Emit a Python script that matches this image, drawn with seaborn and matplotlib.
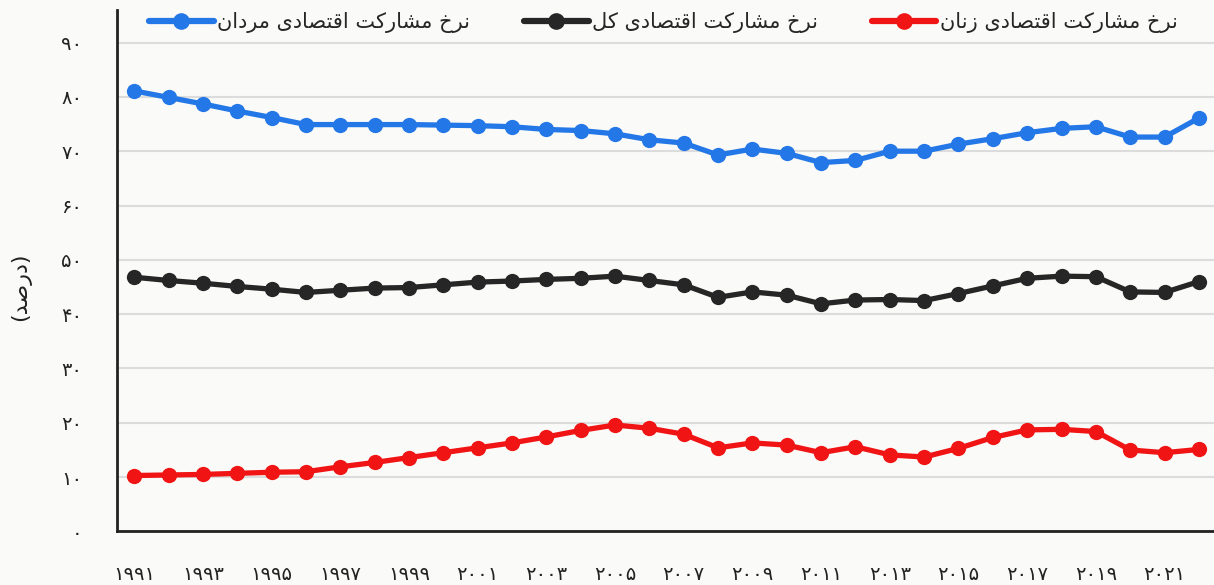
import numpy as np
import pandas as pd
import matplotlib
matplotlib.use("Agg")
import matplotlib.pyplot as plt
import seaborn as sns

# data (percent)
years = list(range(1991, 2023))
men = [81.1, 79.9, 78.7, 77.4, 76.2, 74.9, 74.9, 74.9, 74.9, 74.8, 74.7, 74.5,
       74.0, 73.8, 73.2, 72.1, 71.5, 69.3, 70.4, 69.6, 67.9, 68.3, 70.0, 70.0,
       71.3, 72.3, 73.4, 74.2, 74.5, 72.6, 72.6, 76.1]
total = [46.8, 46.2, 45.7, 45.1, 44.6, 44.0, 44.4, 44.8, 44.9, 45.4, 45.9, 46.1,
         46.4, 46.6, 47.0, 46.2, 45.4, 43.1, 44.1, 43.5, 41.9, 42.6, 42.7, 42.5,
         43.8, 45.2, 46.6, 47.0, 46.9, 44.1, 44.0, 46.0]
women = [10.3, 10.4, 10.5, 10.7, 10.9, 11.0, 11.9, 12.7, 13.6, 14.5, 15.4, 16.3,
         17.4, 18.6, 19.6, 19.0, 17.9, 15.4, 16.3, 15.9, 14.5, 15.6, 14.1, 13.7,
         15.3, 17.3, 18.7, 18.8, 18.4, 15.0, 14.5, 15.1]
series_names = ["نرخ مشارکت اقتصادی مردان",
                "نرخ مشارکت اقتصادی کل",
                "نرخ مشارکت اقتصادی زنان"]
y_label = "(درصد)"
y_ticks = list(range(0, 100, 10))
x_ticks = list(range(1991, 2022, 2))

# matplotlib has no arabic shaping, so pick presentation forms by hand
FORMS = {
    "ا": ("\uFE8D", "\uFE8E", None, None),
    "ت": ("\uFE95", "\uFE96", "\uFE97", "\uFE98"),
    "خ": ("\uFEA5", "\uFEA6", "\uFEA7", "\uFEA8"),
    "د": ("\uFEA9", "\uFEAA", None, None),
    "ر": ("\uFEAD", "\uFEAE", None, None),
    "ز": ("\uFEAF", "\uFEB0", None, None),
    "ش": ("\uFEB5", "\uFEB6", "\uFEB7", "\uFEB8"),
    "ص": ("\uFEB9", "\uFEBA", "\uFEBB", "\uFEBC"),
    "ق": ("\uFED5", "\uFED6", "\uFED7", "\uFED8"),
    "ل": ("\uFEDD", "\uFEDE", "\uFEDF", "\uFEE0"),
    "م": ("\uFEE1", "\uFEE2", "\uFEE3", "\uFEE4"),
    "ن": ("\uFEE5", "\uFEE6", "\uFEE7", "\uFEE8"),
    "ک": ("\uFB8E", "\uFB8F", "\uFB90", "\uFB91"),
    "ی": ("\uFBFC", "\uFBFD", "\uFBFE", "\uFBFF"),
}
MIRROR = {"(": ")", ")": "("}


def fa(text):
    out = []
    for i, c in enumerate(text):
        if c not in FORMS:
            out.append(MIRROR.get(c, c))
            continue
        prev = text[i - 1] if i > 0 else None
        nxt = text[i + 1] if i + 1 < len(text) else None
        join_prev = prev in FORMS and FORMS[prev][2] is not None
        join_next = nxt in FORMS and FORMS[c][2] is not None
        iso, fin, ini, med = FORMS[c]
        if join_prev and join_next:
            out.append(med)
        elif join_prev:
            out.append(fin)
        elif join_next:
            out.append(ini)
        else:
            out.append(iso)
    return "".join(out)[::-1]


def fa_digits(n):
    return str(n).translate(str.maketrans("0123456789", "۰۱۲۳۴۵۶۷۸۹"))


sns.set_style("white")
plt.rcParams["font.family"] = ["DejaVu Sans"]

bg = "#fafaf8"
fig = plt.figure(figsize=(12.14, 5.85), dpi=100, facecolor=bg)
ax = fig.add_axes([0.0964, 0.0915, 0.9036, 0.8915], facecolor=bg)

colors = ["#2477e6", "#262626", "#f01414"]
for vals, name, col in zip([men, total, women], series_names, colors):
    sns.lineplot(x=years, y=vals, ax=ax, color=col, marker="o", markersize=11,
                 markeredgewidth=0, linewidth=3.8, label=fa(name))

ax.set_xlim(1990.5, 2022.44)
ax.set_ylim(0, 96)
ax.set_yticks(y_ticks)
ax.set_yticklabels([fa_digits(v) for v in y_ticks])
ax.set_xticks(x_ticks)
ax.set_xticklabels([fa_digits(v) for v in x_ticks])
ax.tick_params(axis="y", length=0, pad=25, labelsize=14, labelcolor="#222222")
ax.tick_params(axis="x", length=0, pad=24, labelsize=14, labelcolor="#222222")
ax.yaxis.grid(True, color="#dcdcdc", linewidth=1.5)
ax.set_axisbelow(True)
for side in ["top", "right"]:
    ax.spines[side].set_visible(False)
for side in ["left", "bottom"]:
    ax.spines[side].set_color("#222222")
    ax.spines[side].set_linewidth(2)

ax.set_xlabel("")
ax.set_ylabel(fa(y_label), fontsize=16, color="#222222")
ax.yaxis.set_label_coords(-0.078, 0.47)

leg = ax.legend(loc="center", bbox_to_anchor=(0.498, 0.975), ncol=3, frameon=False,
                fontsize=15, handlelength=3.1, handletextpad=0.15, columnspacing=2.6)
for line in leg.get_lines():
    line.set_linewidth(4.5)
    line.set_markersize(12)

fig.savefig("out.png", dpi=100, facecolor=bg)
